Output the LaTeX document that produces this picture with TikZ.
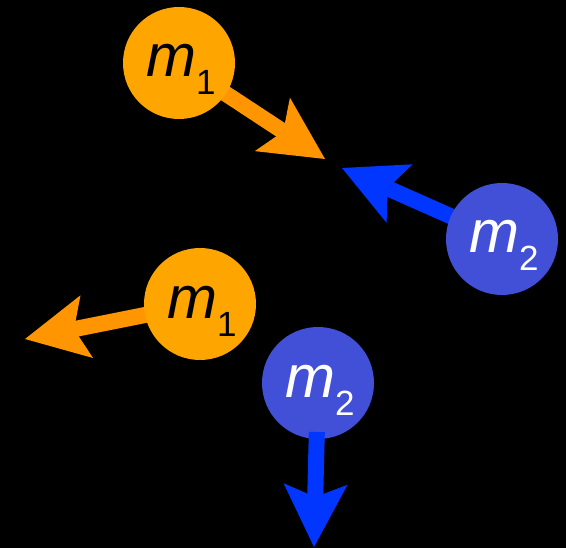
\documentclass[tikz,border=0pt]{standalone}
\usepackage{fontspec}
\setmainfont{Liberation Sans}
\usetikzlibrary{arrows.meta,calc}
\pgfdeclarelayer{bg}\pgfsetlayers{bg,main}
\definecolor{ballO}{RGB}{255,165,0}
\definecolor{arrO}{RGB}{255,149,0}
\definecolor{ballB}{RGB}{65,80,214}
\definecolor{arrB}{RGB}{0,54,255}
\begin{document}
\begin{tikzpicture}[x=1pt,y=-1pt,
  ball/.style={circle,minimum size=112pt,inner sep=0pt},
  vel/.style={line width=16pt,-{Stealth[length=63pt,width=64pt,inset=13pt,line width=0pt]}},
  mass/.style={anchor=base west,inner sep=0pt,font=\fontsize{60}{60}\selectfont\itshape}]
\useasboundingbox (0,0) rectangle (566,548);
% balls
\node[ball,fill=ballO] (c1) at (179,63) {};
\node[ball,fill=ballB] (c2) at (502,239) {};
\node[ball,fill=ballO] (c3) at (200,304) {};
\node[ball,fill=ballB] (c4) at (318,383) {};
% arrow tips
\coordinate (t1) at (325,159);
\coordinate (t2) at (342,168);
\coordinate (t3) at (25,339);
\coordinate (t4) at (314,547);
\begin{pgfonlayer}{bg}
\fill[black] (0,0) rectangle (566,548);
\draw[vel,arrO] (c1.center) -- (t1);
\draw[vel,arrB] (c2.center) -- (t2);
\draw[vel,arrO] (c3.center) -- (t3);
\end{pgfonlayer}
\draw[vel,arrB,shorten <=49pt] (c4.center) -- (t4);
% labels
\newcommand{\msub}[1]{m\raisebox{-18pt}{\fontsize{35}{35}\selectfont\upshape #1}}
\node[mass,text=black] (l1) at ($(c1)+(-33,14)$) {\msub{1}};
\node[mass,text=white] (l2) at ($(c2)+(-33,14)$) {\msub{2}};
\node[mass,text=black] (l3) at ($(c3)+(-33,15)$) {\msub{1}};
\node[mass,text=white] (l4) at ($(c4)+(-33,15)$) {\msub{2}};
\end{tikzpicture}
\end{document}
